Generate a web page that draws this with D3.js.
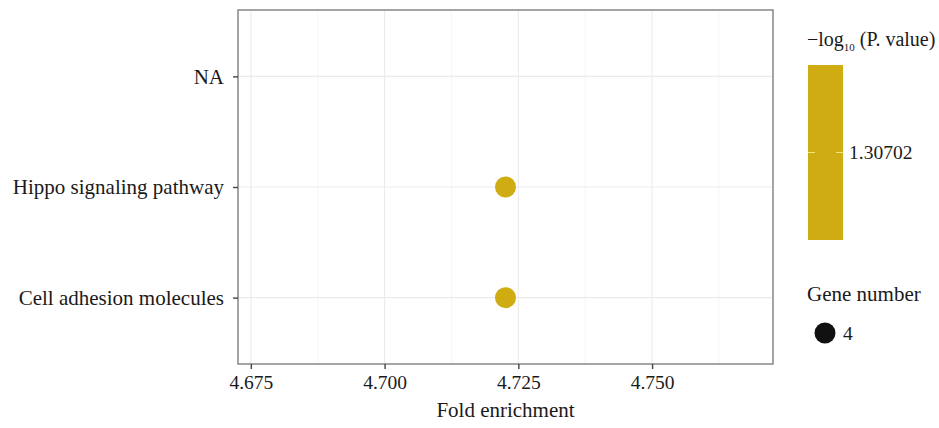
<!DOCTYPE html>
<html>
<head>
<meta charset="utf-8">
<script src="https://cdn.jsdelivr.net/npm/d3@7"></script>
<style>
  html, body { margin: 0; padding: 0; background: #fff; }
  svg text { font-family: "Liberation Serif", "DejaVu Serif", serif; fill: #1a1a1a; }
</style>
</head>
<body>
<svg id="chart" width="939" height="428"></svg>
<script>
// Pathway enrichment terms (bottom to top)
const pathways = ["Cell adhesion molecules", "Hippo signaling pathway", "NA"];
const foldEnrichment = [4.7226, 4.7226, null];
const negLog10P = [1.30702, 1.30702, null];
const geneCount = [4, 4, null];
const xTicks = [4.675, 4.700, 4.725, 4.750];
const colorTicks = [1.30702];
const sizeTicks = [4];

const W = 939, H = 428;
const panel = { left: 238, top: 10, right: 773, bottom: 364 };
const dotColor = "#CFAD12";

const svg = d3.select("#chart");

const x = d3.scaleLinear().domain([4.6726, 4.7726]).range([panel.left, panel.right]);
const y = d3.scalePoint().domain(pathways).range([panel.bottom, panel.top]).padding(0.6);
const r = d3.scaleSqrt().domain([0, 4]).range([0, 10.5]);

// grid
const g = svg.append("g");
const minor = [];
for (let i = 0; i < xTicks.length + 1; i++) {
  minor.push(xTicks[0] - 0.0125 + i * 0.025);
}
g.selectAll(".minor").data(minor.filter(v => x(v) > panel.left && x(v) < panel.right))
  .enter().append("line")
  .attr("x1", d => x(d)).attr("x2", d => x(d))
  .attr("y1", panel.top).attr("y2", panel.bottom)
  .attr("stroke", "#f4f4f4").attr("stroke-width", 0.8);
g.selectAll(".majx").data(xTicks).enter().append("line")
  .attr("x1", d => x(d)).attr("x2", d => x(d))
  .attr("y1", panel.top).attr("y2", panel.bottom)
  .attr("stroke", "#ebebeb").attr("stroke-width", 1.1);
g.selectAll(".majy").data(pathways).enter().append("line")
  .attr("x1", panel.left).attr("x2", panel.right)
  .attr("y1", d => y(d)).attr("y2", d => y(d))
  .attr("stroke", "#ebebeb").attr("stroke-width", 1.1);

// points
const pts = pathways.map((p, i) => ({ p, fe: foldEnrichment[i], v: negLog10P[i], n: geneCount[i] }))
  .filter(d => d.fe !== null);
svg.append("g").selectAll("circle").data(pts).enter().append("circle")
  .attr("cx", d => x(d.fe)).attr("cy", d => y(d.p)).attr("r", d => r(d.n))
  .attr("fill", dotColor);

// panel border
svg.append("rect")
  .attr("x", panel.left).attr("y", panel.top)
  .attr("width", panel.right - panel.left).attr("height", panel.bottom - panel.top)
  .attr("fill", "none").attr("stroke", "#7f7f7f").attr("stroke-width", 1.4);

// x axis
const xAxis = svg.append("g").attr("transform", `translate(0,${panel.bottom})`)
  .call(d3.axisBottom(x).tickValues(xTicks).tickFormat(d3.format(".3f")).tickSize(5).tickPadding(6));
xAxis.select(".domain").remove();
xAxis.selectAll(".tick line").attr("stroke", "#444").attr("stroke-width", 1.4);
xAxis.selectAll(".tick text").style("font-size", "19.5px").attr("fill", "#1a1a1a")
  .style("font-family", '"Liberation Serif", serif');

// y axis
const yAxis = svg.append("g").attr("transform", `translate(${panel.left},0)`)
  .call(d3.axisLeft(y).tickSize(5).tickPadding(9));
yAxis.select(".domain").remove();
yAxis.selectAll(".tick line").attr("stroke", "#444").attr("stroke-width", 1.4);
yAxis.selectAll(".tick text").style("font-size", "21px").attr("fill", "#1a1a1a")
  .style("font-family", '"Liberation Serif", serif');

// axis title
svg.append("text").attr("x", (panel.left + panel.right) / 2).attr("y", 417)
  .attr("text-anchor", "middle").style("font-size", "21px").text("Fold enrichment");

// colour legend
const cTitle = svg.append("text").attr("x", 807).attr("y", 46).style("font-size", "20px");
cTitle.append("tspan").text("\u2212log");
cTitle.append("tspan").attr("dy", 5).style("font-size", "11px").text("10");
cTitle.append("tspan").attr("dy", -5).text(" (P. value)");

const cb = { x: 808, y: 65, w: 35, h: 175 };
const cScale = d3.scaleLinear().domain([1.2, 1.41404]).range([cb.y + cb.h, cb.y]);
svg.append("rect").attr("x", cb.x).attr("y", cb.y).attr("width", cb.w).attr("height", cb.h)
  .attr("fill", dotColor);
colorTicks.forEach(t => {
  const ty = cScale(t);
  svg.append("line").attr("x1", cb.x).attr("x2", cb.x + 7).attr("y1", ty).attr("y2", ty)
    .attr("stroke", "#f5e27a").attr("stroke-width", 1);
  svg.append("line").attr("x1", cb.x + cb.w - 7).attr("x2", cb.x + cb.w).attr("y1", ty).attr("y2", ty)
    .attr("stroke", "#f5e27a").attr("stroke-width", 1);
  svg.append("text").attr("x", cb.x + cb.w + 6).attr("y", ty).attr("dy", "0.35em")
    .style("font-size", "19.5px").text(d3.format(".5f")(t));
});

// size legend
svg.append("text").attr("x", 807).attr("y", 301).style("font-size", "21px").text("Gene number");
sizeTicks.forEach((t, i) => {
  const cy = 333 + i * 28;
  svg.append("circle").attr("cx", 825).attr("cy", cy).attr("r", r(t)).attr("fill", "#111");
  svg.append("text").attr("x", 843).attr("y", cy).attr("dy", "0.35em")
    .style("font-size", "19.5px").text(t);
});
</script>
</body>
</html>
